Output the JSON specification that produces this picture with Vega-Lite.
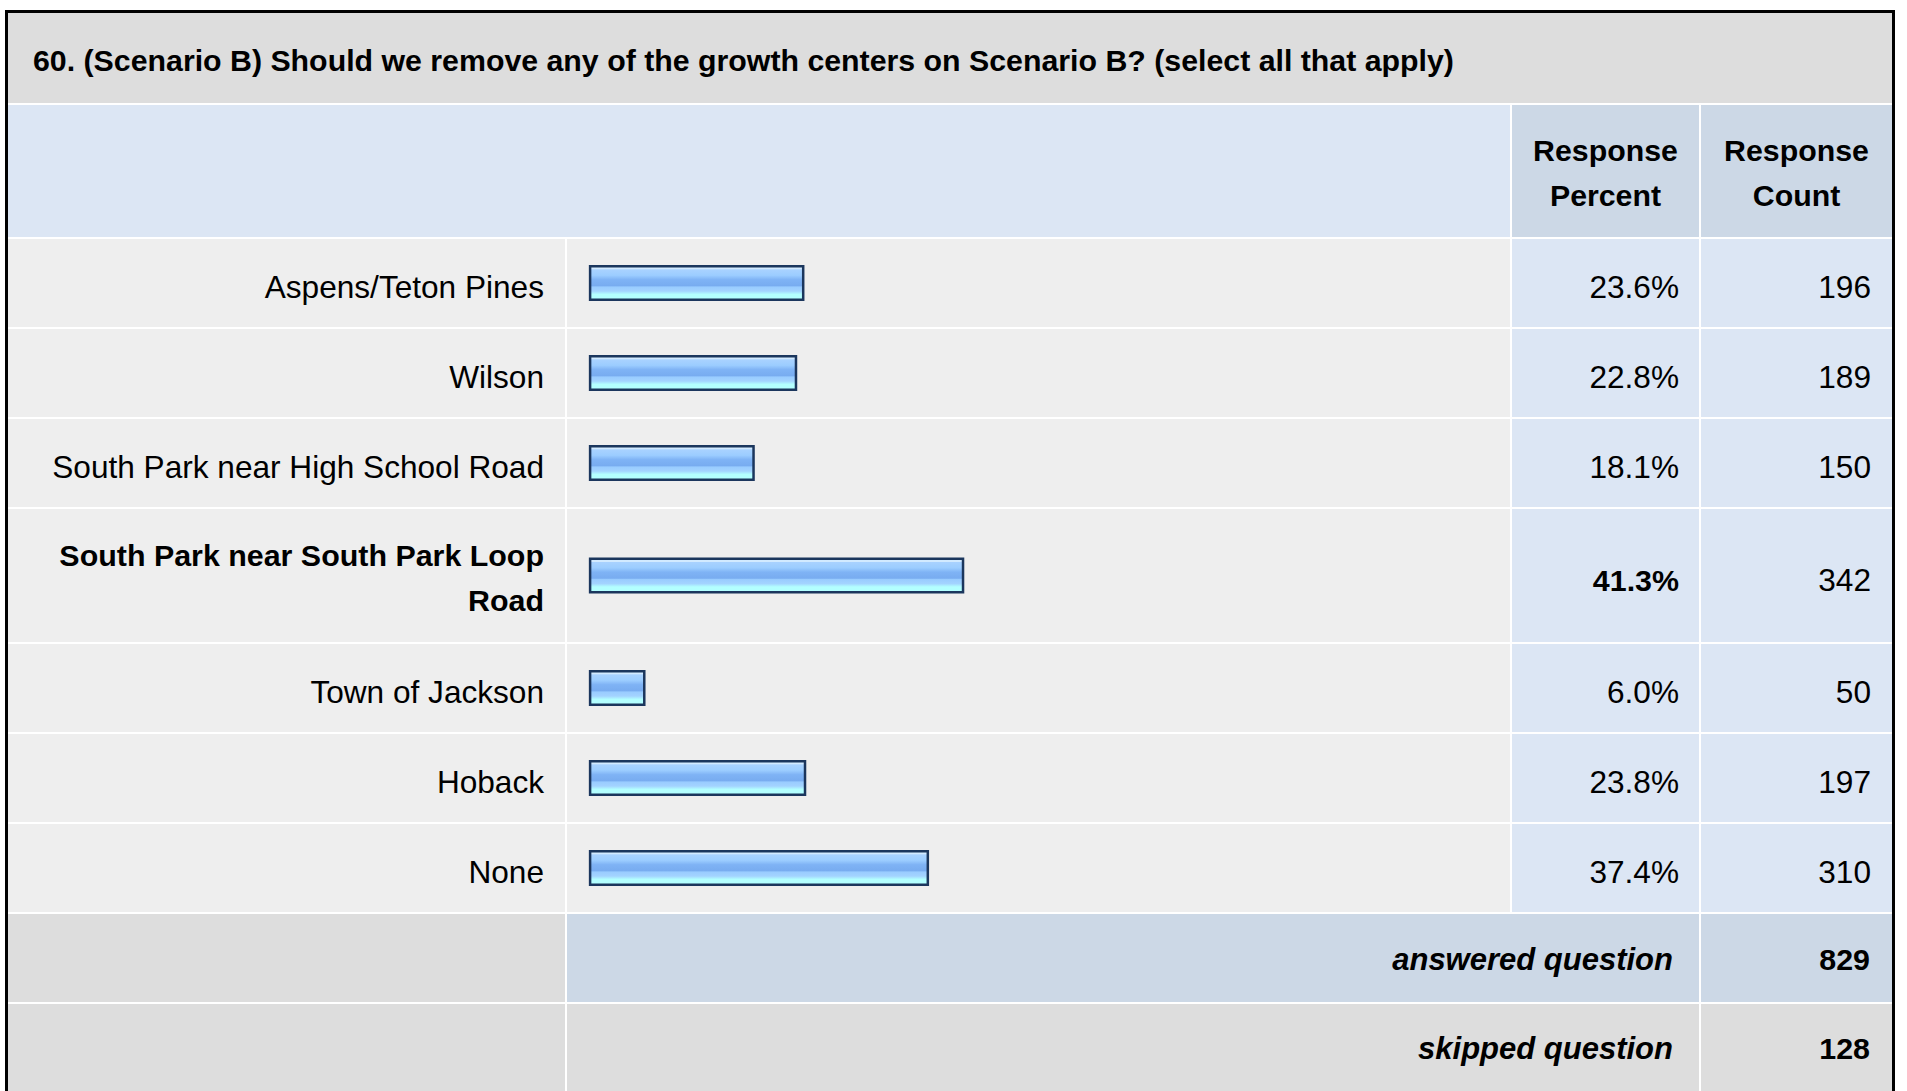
{
  "$schema": "https://vega.github.io/schema/vega-lite/v6.json",
  "padding": {"left": 5, "top": 10, "right": 12, "bottom": 0},
  "background": "white",
  "config": {
    "view": {"stroke": null},
    "font": "Liberation Sans",
    "text": {"font": "Liberation Sans", "color": "#000000"}
  },
  "datasets": {
    "rows": [
      {"option": "Aspens/Teton Pines", "pct": 0.236, "count": 196},
      {"option": "Wilson", "pct": 0.228, "count": 189},
      {"option": "South Park near High School Road", "pct": 0.181, "count": 150},
      {"option": "South Park near South Park Loop\nRoad", "pct": 0.413, "count": 342},
      {"option": "Town of Jackson", "pct": 0.06, "count": 50},
      {"option": "Hoback", "pct": 0.238, "count": 197},
      {"option": "None", "pct": 0.374, "count": 310}
    ],
    "summary": [
      {"label": "answered question", "value": 829},
      {"label": "skipped question", "value": 128}
    ],
    "heading": [
      {"question": "60. (Scenario B) Should we remove any of the growth centers on Scenario B? (select all that apply)"}
    ],
    "columns": [
      {"column": "percent", "header": "Response\nPercent"},
      {"column": "count", "header": "Response\nCount"}
    ],
    "frame": [{"part": "cell"}]
  },
  "spacing": 0,
  "hconcat": [
    {"width": 3, "height": 1081, "data": {"name": "frame"}, "mark": {"type": "rect", "color": "#000000"}, "encoding": {}},
    {
      "spacing": 0,
      "vconcat": [
        {"width": 1884, "height": 3, "data": {"name": "frame"}, "mark": {"type": "rect", "color": "#000000"}, "encoding": {}},
        {
          "spacing": 2,
          "vconcat": [
            {
              "width": 1884, "height": 90,
              "view": {"fill": "#DDDDDD"},
              "data": {"name": "heading"},
              "mark": {"type": "text", "align": "left", "baseline": "middle", "fontSize": 30.3, "fontWeight": "bold", "dx": 25, "dy": 4},
              "encoding": {"text": {"field": "question"}, "x": {"value": 0}}
            },
            {
              "spacing": 2,
              "hconcat": [
                {"width": 1502, "height": 132, "data": {"name": "frame"}, "mark": {"type": "rect", "color": "#DCE6F4"}, "encoding": {}},
                {
                  "width": 187, "height": 132, "view": {"fill": "#CCD8E6"},
                  "data": {"name": "columns"}, "transform": [{"filter": "datum.column === 'percent'"}],
                  "mark": {"type": "text", "align": "center", "baseline": "middle", "fontSize": 30.3, "fontWeight": "bold", "lineBreak": "\n", "lineHeight": 45, "dy": -19},
                  "encoding": {"text": {"field": "header"}}
                },
                {
                  "width": 191, "height": 132, "view": {"fill": "#CCD8E6"},
                  "data": {"name": "columns"}, "transform": [{"filter": "datum.column === 'count'"}],
                  "mark": {"type": "text", "align": "center", "baseline": "middle", "fontSize": 30.3, "fontWeight": "bold", "lineBreak": "\n", "lineHeight": 45, "dy": -19},
                  "encoding": {"text": {"field": "header"}}
                }
              ]
            },
            {
              "spacing": 2,
              "data": {"name": "rows"}, "transform": [{"filter": "datum.option === 'Aspens/Teton Pines'"}],
              "hconcat": [
                {"width": 557, "height": 88, "view": {"fill": "#EEEEEE"}, "mark": {"type": "text", "align": "right", "baseline": "middle", "fontSize": 31.6, "dx": -21, "dy": 6}, "encoding": {"text": {"field": "option"}, "x": {"value": "width"}}},
                {"width": 943, "height": 88, "view": {"fill": "#EEEEEE"}, "mark": {"type": "bar", "height": 33.5, "stroke": "#1B365D", "strokeWidth": 2.5, "fill": {"gradient": "linear", "x1": 0, "y1": 0, "x2": 0, "y2": 1, "stops": [{"offset": 0, "color": "#D2EAFF"}, {"offset": 0.09, "color": "#D2EAFF"}, {"offset": 0.1, "color": "#A9D2FF"}, {"offset": 0.27, "color": "#9CCDFF"}, {"offset": 0.4, "color": "#7FB3F5"}, {"offset": 0.58, "color": "#78ACF0"}, {"offset": 0.62, "color": "#99CCFF"}, {"offset": 0.74, "color": "#A3D3FF"}, {"offset": 0.84, "color": "#B3FFFF"}, {"offset": 1, "color": "#B3FFFF"}]}}, "encoding": {"x": {"field": "pct", "type": "quantitative", "scale": {"domain": [-0.02558, 1.01872], "nice": false, "zero": false}, "axis": null}}},
                {"width": 187, "height": 88, "view": {"fill": "#DCE6F4"}, "mark": {"type": "text", "align": "right", "baseline": "middle", "fontSize": 31.6, "dx": -20, "dy": 6}, "encoding": {"text": {"field": "pct", "type": "quantitative", "format": ".1%"}, "x": {"value": "width"}}},
                {"width": 191, "height": 88, "view": {"fill": "#DCE6F4"}, "mark": {"type": "text", "align": "right", "baseline": "middle", "fontSize": 31.6, "dx": -21, "dy": 6}, "encoding": {"text": {"field": "count", "type": "quantitative", "format": "d"}, "x": {"value": "width"}}}
              ]
            },
            {
              "spacing": 2,
              "data": {"name": "rows"}, "transform": [{"filter": "datum.option === 'Wilson'"}],
              "hconcat": [
                {"width": 557, "height": 88, "view": {"fill": "#EEEEEE"}, "mark": {"type": "text", "align": "right", "baseline": "middle", "fontSize": 31.6, "dx": -21, "dy": 6}, "encoding": {"text": {"field": "option"}, "x": {"value": "width"}}},
                {"width": 943, "height": 88, "view": {"fill": "#EEEEEE"}, "mark": {"type": "bar", "height": 33.5, "stroke": "#1B365D", "strokeWidth": 2.5, "fill": {"gradient": "linear", "x1": 0, "y1": 0, "x2": 0, "y2": 1, "stops": [{"offset": 0, "color": "#D2EAFF"}, {"offset": 0.09, "color": "#D2EAFF"}, {"offset": 0.1, "color": "#A9D2FF"}, {"offset": 0.27, "color": "#9CCDFF"}, {"offset": 0.4, "color": "#7FB3F5"}, {"offset": 0.58, "color": "#78ACF0"}, {"offset": 0.62, "color": "#99CCFF"}, {"offset": 0.74, "color": "#A3D3FF"}, {"offset": 0.84, "color": "#B3FFFF"}, {"offset": 1, "color": "#B3FFFF"}]}}, "encoding": {"x": {"field": "pct", "type": "quantitative", "scale": {"domain": [-0.02558, 1.01872], "nice": false, "zero": false}, "axis": null}}},
                {"width": 187, "height": 88, "view": {"fill": "#DCE6F4"}, "mark": {"type": "text", "align": "right", "baseline": "middle", "fontSize": 31.6, "dx": -20, "dy": 6}, "encoding": {"text": {"field": "pct", "type": "quantitative", "format": ".1%"}, "x": {"value": "width"}}},
                {"width": 191, "height": 88, "view": {"fill": "#DCE6F4"}, "mark": {"type": "text", "align": "right", "baseline": "middle", "fontSize": 31.6, "dx": -21, "dy": 6}, "encoding": {"text": {"field": "count", "type": "quantitative", "format": "d"}, "x": {"value": "width"}}}
              ]
            },
            {
              "spacing": 2,
              "data": {"name": "rows"}, "transform": [{"filter": "datum.option === 'South Park near High School Road'"}],
              "hconcat": [
                {"width": 557, "height": 88, "view": {"fill": "#EEEEEE"}, "mark": {"type": "text", "align": "right", "baseline": "middle", "fontSize": 31.6, "dx": -21, "dy": 6}, "encoding": {"text": {"field": "option"}, "x": {"value": "width"}}},
                {"width": 943, "height": 88, "view": {"fill": "#EEEEEE"}, "mark": {"type": "bar", "height": 33.5, "stroke": "#1B365D", "strokeWidth": 2.5, "fill": {"gradient": "linear", "x1": 0, "y1": 0, "x2": 0, "y2": 1, "stops": [{"offset": 0, "color": "#D2EAFF"}, {"offset": 0.09, "color": "#D2EAFF"}, {"offset": 0.1, "color": "#A9D2FF"}, {"offset": 0.27, "color": "#9CCDFF"}, {"offset": 0.4, "color": "#7FB3F5"}, {"offset": 0.58, "color": "#78ACF0"}, {"offset": 0.62, "color": "#99CCFF"}, {"offset": 0.74, "color": "#A3D3FF"}, {"offset": 0.84, "color": "#B3FFFF"}, {"offset": 1, "color": "#B3FFFF"}]}}, "encoding": {"x": {"field": "pct", "type": "quantitative", "scale": {"domain": [-0.02558, 1.01872], "nice": false, "zero": false}, "axis": null}}},
                {"width": 187, "height": 88, "view": {"fill": "#DCE6F4"}, "mark": {"type": "text", "align": "right", "baseline": "middle", "fontSize": 31.6, "dx": -20, "dy": 6}, "encoding": {"text": {"field": "pct", "type": "quantitative", "format": ".1%"}, "x": {"value": "width"}}},
                {"width": 191, "height": 88, "view": {"fill": "#DCE6F4"}, "mark": {"type": "text", "align": "right", "baseline": "middle", "fontSize": 31.6, "dx": -21, "dy": 6}, "encoding": {"text": {"field": "count", "type": "quantitative", "format": "d"}, "x": {"value": "width"}}}
              ]
            },
            {
              "spacing": 2,
              "data": {"name": "rows"}, "transform": [{"filter": "indexof(datum.option, 'Loop') >= 0"}],
              "hconcat": [
                {"width": 557, "height": 133, "view": {"fill": "#EEEEEE"}, "mark": {"type": "text", "align": "right", "baseline": "middle", "fontSize": 30.4, "fontWeight": "bold", "lineBreak": "\n", "lineHeight": 45, "dx": -21, "dy": -19}, "encoding": {"text": {"field": "option"}, "x": {"value": "width"}}},
                {"width": 943, "height": 133, "view": {"fill": "#EEEEEE"}, "mark": {"type": "bar", "height": 33.5, "stroke": "#1B365D", "strokeWidth": 2.5, "fill": {"gradient": "linear", "x1": 0, "y1": 0, "x2": 0, "y2": 1, "stops": [{"offset": 0, "color": "#D2EAFF"}, {"offset": 0.09, "color": "#D2EAFF"}, {"offset": 0.1, "color": "#A9D2FF"}, {"offset": 0.27, "color": "#9CCDFF"}, {"offset": 0.4, "color": "#7FB3F5"}, {"offset": 0.58, "color": "#78ACF0"}, {"offset": 0.62, "color": "#99CCFF"}, {"offset": 0.74, "color": "#A3D3FF"}, {"offset": 0.84, "color": "#B3FFFF"}, {"offset": 1, "color": "#B3FFFF"}]}}, "encoding": {"x": {"field": "pct", "type": "quantitative", "scale": {"domain": [-0.02558, 1.01872], "nice": false, "zero": false}, "axis": null}}},
                {"width": 187, "height": 133, "view": {"fill": "#DCE6F4"}, "mark": {"type": "text", "align": "right", "baseline": "middle", "fontSize": 30.4, "fontWeight": "bold", "dx": -20, "dy": 6}, "encoding": {"text": {"field": "pct", "type": "quantitative", "format": ".1%"}, "x": {"value": "width"}}},
                {"width": 191, "height": 133, "view": {"fill": "#DCE6F4"}, "mark": {"type": "text", "align": "right", "baseline": "middle", "fontSize": 31.6, "dx": -21, "dy": 6}, "encoding": {"text": {"field": "count", "type": "quantitative", "format": "d"}, "x": {"value": "width"}}}
              ]
            },
            {
              "spacing": 2,
              "data": {"name": "rows"}, "transform": [{"filter": "datum.option === 'Town of Jackson'"}],
              "hconcat": [
                {"width": 557, "height": 88, "view": {"fill": "#EEEEEE"}, "mark": {"type": "text", "align": "right", "baseline": "middle", "fontSize": 31.6, "dx": -21, "dy": 6}, "encoding": {"text": {"field": "option"}, "x": {"value": "width"}}},
                {"width": 943, "height": 88, "view": {"fill": "#EEEEEE"}, "mark": {"type": "bar", "height": 33.5, "stroke": "#1B365D", "strokeWidth": 2.5, "fill": {"gradient": "linear", "x1": 0, "y1": 0, "x2": 0, "y2": 1, "stops": [{"offset": 0, "color": "#D2EAFF"}, {"offset": 0.09, "color": "#D2EAFF"}, {"offset": 0.1, "color": "#A9D2FF"}, {"offset": 0.27, "color": "#9CCDFF"}, {"offset": 0.4, "color": "#7FB3F5"}, {"offset": 0.58, "color": "#78ACF0"}, {"offset": 0.62, "color": "#99CCFF"}, {"offset": 0.74, "color": "#A3D3FF"}, {"offset": 0.84, "color": "#B3FFFF"}, {"offset": 1, "color": "#B3FFFF"}]}}, "encoding": {"x": {"field": "pct", "type": "quantitative", "scale": {"domain": [-0.02558, 1.01872], "nice": false, "zero": false}, "axis": null}}},
                {"width": 187, "height": 88, "view": {"fill": "#DCE6F4"}, "mark": {"type": "text", "align": "right", "baseline": "middle", "fontSize": 31.6, "dx": -20, "dy": 6}, "encoding": {"text": {"field": "pct", "type": "quantitative", "format": ".1%"}, "x": {"value": "width"}}},
                {"width": 191, "height": 88, "view": {"fill": "#DCE6F4"}, "mark": {"type": "text", "align": "right", "baseline": "middle", "fontSize": 31.6, "dx": -21, "dy": 6}, "encoding": {"text": {"field": "count", "type": "quantitative", "format": "d"}, "x": {"value": "width"}}}
              ]
            },
            {
              "spacing": 2,
              "data": {"name": "rows"}, "transform": [{"filter": "datum.option === 'Hoback'"}],
              "hconcat": [
                {"width": 557, "height": 88, "view": {"fill": "#EEEEEE"}, "mark": {"type": "text", "align": "right", "baseline": "middle", "fontSize": 31.6, "dx": -21, "dy": 6}, "encoding": {"text": {"field": "option"}, "x": {"value": "width"}}},
                {"width": 943, "height": 88, "view": {"fill": "#EEEEEE"}, "mark": {"type": "bar", "height": 33.5, "stroke": "#1B365D", "strokeWidth": 2.5, "fill": {"gradient": "linear", "x1": 0, "y1": 0, "x2": 0, "y2": 1, "stops": [{"offset": 0, "color": "#D2EAFF"}, {"offset": 0.09, "color": "#D2EAFF"}, {"offset": 0.1, "color": "#A9D2FF"}, {"offset": 0.27, "color": "#9CCDFF"}, {"offset": 0.4, "color": "#7FB3F5"}, {"offset": 0.58, "color": "#78ACF0"}, {"offset": 0.62, "color": "#99CCFF"}, {"offset": 0.74, "color": "#A3D3FF"}, {"offset": 0.84, "color": "#B3FFFF"}, {"offset": 1, "color": "#B3FFFF"}]}}, "encoding": {"x": {"field": "pct", "type": "quantitative", "scale": {"domain": [-0.02558, 1.01872], "nice": false, "zero": false}, "axis": null}}},
                {"width": 187, "height": 88, "view": {"fill": "#DCE6F4"}, "mark": {"type": "text", "align": "right", "baseline": "middle", "fontSize": 31.6, "dx": -20, "dy": 6}, "encoding": {"text": {"field": "pct", "type": "quantitative", "format": ".1%"}, "x": {"value": "width"}}},
                {"width": 191, "height": 88, "view": {"fill": "#DCE6F4"}, "mark": {"type": "text", "align": "right", "baseline": "middle", "fontSize": 31.6, "dx": -21, "dy": 6}, "encoding": {"text": {"field": "count", "type": "quantitative", "format": "d"}, "x": {"value": "width"}}}
              ]
            },
            {
              "spacing": 2,
              "data": {"name": "rows"}, "transform": [{"filter": "datum.option === 'None'"}],
              "hconcat": [
                {"width": 557, "height": 88, "view": {"fill": "#EEEEEE"}, "mark": {"type": "text", "align": "right", "baseline": "middle", "fontSize": 31.6, "dx": -21, "dy": 6}, "encoding": {"text": {"field": "option"}, "x": {"value": "width"}}},
                {"width": 943, "height": 88, "view": {"fill": "#EEEEEE"}, "mark": {"type": "bar", "height": 33.5, "stroke": "#1B365D", "strokeWidth": 2.5, "fill": {"gradient": "linear", "x1": 0, "y1": 0, "x2": 0, "y2": 1, "stops": [{"offset": 0, "color": "#D2EAFF"}, {"offset": 0.09, "color": "#D2EAFF"}, {"offset": 0.1, "color": "#A9D2FF"}, {"offset": 0.27, "color": "#9CCDFF"}, {"offset": 0.4, "color": "#7FB3F5"}, {"offset": 0.58, "color": "#78ACF0"}, {"offset": 0.62, "color": "#99CCFF"}, {"offset": 0.74, "color": "#A3D3FF"}, {"offset": 0.84, "color": "#B3FFFF"}, {"offset": 1, "color": "#B3FFFF"}]}}, "encoding": {"x": {"field": "pct", "type": "quantitative", "scale": {"domain": [-0.02558, 1.01872], "nice": false, "zero": false}, "axis": null}}},
                {"width": 187, "height": 88, "view": {"fill": "#DCE6F4"}, "mark": {"type": "text", "align": "right", "baseline": "middle", "fontSize": 31.6, "dx": -20, "dy": 6}, "encoding": {"text": {"field": "pct", "type": "quantitative", "format": ".1%"}, "x": {"value": "width"}}},
                {"width": 191, "height": 88, "view": {"fill": "#DCE6F4"}, "mark": {"type": "text", "align": "right", "baseline": "middle", "fontSize": 31.6, "dx": -21, "dy": 6}, "encoding": {"text": {"field": "count", "type": "quantitative", "format": "d"}, "x": {"value": "width"}}}
              ]
            },
            {
              "spacing": 2,
              "data": {"name": "summary"}, "transform": [{"filter": "datum.label === 'answered question'"}],
              "hconcat": [
                {"width": 557, "height": 88, "data": {"name": "frame"}, "mark": {"type": "rect", "color": "#DDDDDD"}, "encoding": {}},
                {"width": 1132, "height": 88, "view": {"fill": "#CCD8E6"}, "mark": {"type": "text", "align": "right", "baseline": "middle", "fontSize": 31, "fontWeight": "bold", "fontStyle": "italic", "dx": -26, "dy": 3}, "encoding": {"text": {"field": "label"}, "x": {"value": "width"}}},
                {"width": 191, "height": 88, "view": {"fill": "#CCD8E6"}, "mark": {"type": "text", "align": "right", "baseline": "middle", "fontSize": 30.4, "fontWeight": "bold", "dx": -22, "dy": 3}, "encoding": {"text": {"field": "value", "type": "quantitative", "format": "d"}, "x": {"value": "width"}}}
              ]
            },
            {
              "spacing": 2,
              "data": {"name": "summary"}, "transform": [{"filter": "datum.label === 'skipped question'"}],
              "hconcat": [
                {"width": 557, "height": 87, "data": {"name": "frame"}, "mark": {"type": "rect", "color": "#DDDDDD"}, "encoding": {}},
                {"width": 1132, "height": 87, "view": {"fill": "#DDDDDD"}, "mark": {"type": "text", "align": "right", "baseline": "middle", "fontSize": 31, "fontWeight": "bold", "fontStyle": "italic", "dx": -26, "dy": 2}, "encoding": {"text": {"field": "label"}, "x": {"value": "width"}}},
                {"width": 191, "height": 87, "view": {"fill": "#DDDDDD"}, "mark": {"type": "text", "align": "right", "baseline": "middle", "fontSize": 30.4, "fontWeight": "bold", "dx": -22, "dy": 2}, "encoding": {"text": {"field": "value", "type": "quantitative", "format": "d"}, "x": {"value": "width"}}}
              ]
            }
          ]
        }
      ]
    },
    {"width": 3, "height": 1081, "data": {"name": "frame"}, "mark": {"type": "rect", "color": "#000000"}, "encoding": {}}
  ]
}
